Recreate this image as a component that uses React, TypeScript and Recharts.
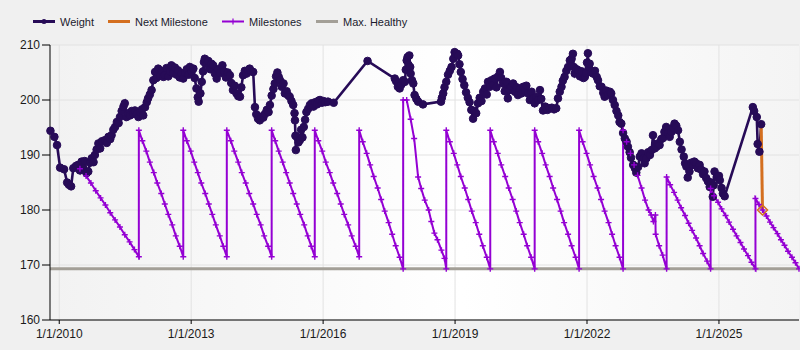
import React from 'react';
import { LineChart, Line, XAxis, YAxis, CartesianGrid } from 'recharts';

const weightData: [number, number][] = [
  [2009.80,194.4],[2009.89,193.3],[2009.95,191.8],[2010.02,187.7],[2010.11,187.4],[2010.18,185.0],[2010.22,184.6],[2010.27,184.3],
  [2010.32,187.6],[2010.38,188.0],[2010.43,188.2],[2010.47,187.2],[2010.51,188.8],[2010.55,187.6],[2010.58,188.9],[2010.62,186.7],
  [2010.66,187.0],[2010.70,188.6],[2010.74,189.4],[2010.78,188.7],[2010.81,190.0],[2010.85,191.0],[2010.89,192.1],[2010.93,191.2],
  [2010.97,192.5],[2011.04,192.7],[2011.08,192.2],[2011.12,193.3],[2011.16,192.9],[2011.19,193.6],[2011.23,194.6],[2011.27,195.1],
  [2011.31,196.0],[2011.35,195.8],[2011.38,196.9],[2011.42,198.0],[2011.46,198.8],[2011.49,199.4],[2011.53,196.9],[2011.57,197.6],
  [2011.61,197.2],[2011.65,198.0],[2011.68,197.5],[2011.72,198.1],[2011.76,197.4],[2011.80,196.9],[2011.84,197.8],[2011.88,198.3],
  [2011.91,197.2],[2011.95,198.7],[2011.99,199.6],[2012.02,200.3],[2012.06,201.0],[2012.10,201.8],[2012.14,203.6],[2012.18,205.1],
  [2012.21,204.0],[2012.25,205.7],[2012.29,204.4],[2012.33,205.3],[2012.37,204.2],[2012.40,204.5],[2012.44,205.8],[2012.48,204.3],
  [2012.52,205.2],[2012.55,206.3],[2012.59,204.9],[2012.63,205.9],[2012.67,204.6],[2012.70,205.4],[2012.74,204.1],[2012.78,204.8],
  [2012.82,203.9],[2012.86,205.0],[2012.90,205.6],[2012.94,204.6],[2012.97,206.0],[2013.01,205.2],[2013.05,205.7],[2013.08,204.0],
  [2013.12,202.1],[2013.15,200.5],[2013.17,199.7],[2013.21,201.2],[2013.24,203.3],[2013.27,205.2],[2013.29,206.9],[2013.31,207.5],
  [2013.35,206.5],[2013.39,207.1],[2013.43,205.6],[2013.46,206.6],[2013.50,206.3],[2013.54,204.8],[2013.58,203.9],[2013.62,205.6],
  [2013.66,204.9],[2013.71,206.3],[2013.75,205.2],[2013.79,204.1],[2013.83,205.0],[2013.88,204.5],[2013.91,203.1],[2013.95,201.8],
  [2013.99,202.6],[2014.03,201.2],[2014.07,200.7],[2014.11,200.6],[2014.14,202.3],[2014.18,204.5],[2014.22,205.3],[2014.26,204.8],
  [2014.30,205.4],[2014.33,205.7],[2014.37,205.2],[2014.41,205.1],[2014.45,198.7],[2014.48,197.4],[2014.52,196.6],[2014.56,196.3],
  [2014.60,197.0],[2014.64,196.8],[2014.68,197.5],[2014.72,198.2],[2014.76,197.8],[2014.79,199.1],[2014.83,200.8],[2014.87,202.0],
  [2014.90,203.0],[2014.93,204.3],[2014.96,205.0],[2014.99,204.2],[2015.02,203.6],[2015.06,202.4],[2015.10,203.0],[2015.13,201.2],
  [2015.17,201.6],[2015.21,200.8],[2015.24,200.6],[2015.28,199.8],[2015.32,199.1],[2015.35,197.6],[2015.36,196.3],[2015.37,193.5],
  [2015.38,190.9],[2015.41,193.2],[2015.44,192.3],[2015.47,192.7],[2015.50,194.6],[2015.53,193.2],[2015.56,195.1],[2015.59,196.4],
  [2015.62,197.8],[2015.66,198.4],[2015.70,199.1],[2015.74,199.4],[2015.78,198.8],[2015.82,199.6],[2015.86,199.2],[2015.90,199.9],
  [2015.93,200.0],[2015.97,199.5],[2016.01,199.8],[2016.05,199.6],[2016.11,199.7],[2016.24,199.5],
  [2017.01,207.1],
  [2017.63,203.9],[2017.66,203.4],[2017.70,202.4],[2017.74,202.1],[2017.78,202.8],[2017.82,203.6],[2017.86,203.3],[2017.88,205.5],
  [2017.90,207.2],[2017.92,207.8],[2017.94,206.4],[2017.96,208.1],[2017.98,206.0],[2017.99,204.8],[2018.02,203.6],[2018.05,203.0],
  [2018.08,200.9],[2018.12,200.2],[2018.16,199.7],[2018.27,199.2],[2018.68,199.7],[2018.70,200.4],[2018.73,201.2],[2018.76,202.3],
  [2018.80,203.3],[2018.84,204.6],[2018.88,205.3],[2018.92,206.0],[2018.96,207.5],[2018.99,208.7],[2019.02,208.3],[2019.05,208.4],
  [2019.07,208.1],[2019.10,206.5],[2019.13,205.1],[2019.17,203.8],[2019.21,202.7],[2019.25,201.4],[2019.29,200.4],[2019.33,199.6],
  [2019.37,198.2],[2019.41,196.6],[2019.44,198.0],[2019.48,197.6],[2019.52,199.4],[2019.56,200.4],[2019.60,199.8],[2019.64,201.5],
  [2019.68,202.1],[2019.72,201.0],[2019.75,203.3],[2019.79,202.4],[2019.83,203.6],[2019.87,202.8],[2019.90,203.9],[2019.94,202.3],
  [2019.98,204.3],[2020.02,205.1],[2020.05,204.0],[2020.09,203.0],[2020.13,201.6],[2020.17,203.3],[2020.20,200.3],[2020.24,201.8],
  [2020.28,202.4],[2020.32,203.0],[2020.36,201.5],[2020.40,202.3],[2020.43,200.9],[2020.47,202.0],[2020.51,201.2],[2020.55,202.4],
  [2020.59,201.7],[2020.62,202.6],[2020.66,201.2],[2020.70,200.0],[2020.74,201.5],[2020.78,200.3],[2020.81,199.4],[2020.85,200.6],
  [2020.89,200.0],[2020.93,201.8],[2020.96,200.2],[2021.00,198.1],[2021.05,198.8],[2021.10,198.2],[2021.15,198.5],[2021.20,198.6],
  [2021.25,198.3],[2021.30,198.5],[2021.34,200.3],[2021.38,201.5],[2021.42,202.4],[2021.45,203.5],[2021.49,204.2],[2021.53,205.3],
  [2021.57,206.0],[2021.61,207.2],[2021.65,207.5],[2021.68,208.4],[2021.70,206.0],[2021.72,204.8],[2021.76,205.6],[2021.80,205.4],
  [2021.84,204.3],[2021.88,205.2],[2021.92,204.0],[2021.95,204.2],[2021.98,204.9],[2022.00,206.8],[2022.02,208.5],[2022.04,206.0],
  [2022.06,206.6],[2022.10,205.0],[2022.14,204.8],[2022.18,205.3],[2022.22,204.2],[2022.25,203.6],[2022.29,202.5],[2022.33,202.4],
  [2022.37,201.3],[2022.40,200.6],[2022.44,201.7],[2022.48,200.9],[2022.52,201.5],[2022.55,201.2],[2022.59,200.0],[2022.63,199.1],
  [2022.67,198.0],[2022.71,197.2],[2022.74,196.0],[2022.78,195.7],[2022.82,194.0],[2022.86,193.0],[2022.90,192.4],[2022.93,191.5],
  [2022.97,190.5],[2023.00,189.5],[2023.05,188.2],[2023.09,187.6],[2023.12,186.8],[2023.16,187.8],[2023.20,189.7],[2023.24,190.3],
  [2023.28,189.4],[2023.31,188.5],[2023.35,189.4],[2023.39,190.5],[2023.43,190.0],[2023.47,190.9],[2023.50,193.6],[2023.54,191.2],
  [2023.58,191.5],[2023.61,192.1],[2023.65,191.8],[2023.69,192.9],[2023.73,193.1],[2023.76,194.2],[2023.80,195.1],[2023.84,194.0],
  [2023.88,193.3],[2023.92,194.2],[2023.96,195.0],[2023.99,195.7],[2024.03,195.3],[2024.07,194.5],[2024.11,192.4],[2024.15,191.0],
  [2024.20,189.7],[2024.23,188.5],[2024.26,187.9],[2024.29,185.9],[2024.33,187.0],[2024.37,188.6],[2024.41,188.2],[2024.44,188.8],
  [2024.48,188.5],[2024.52,187.6],[2024.56,188.2],[2024.60,187.3],[2024.64,186.5],[2024.67,187.0],[2024.71,185.8],[2024.75,185.2],
  [2024.79,184.2],[2024.83,185.0],[2024.86,182.4],[2024.88,184.5],[2024.90,187.0],[2024.95,186.0],[2025.00,186.2],[2025.02,185.4],
  [2025.06,184.0],[2025.09,183.0],[2025.13,182.5],[2025.77,198.7],[2025.80,198.0],[2025.86,196.9],[2025.88,192.0],[2025.92,190.6],
  [2025.96,195.6],
];

const milestoneData: [number, number][] = [
  [2010.47,187.5],[2010.61,186.2],[2010.72,184.9],[2010.83,183.5],[2010.94,182.2],[2011.05,180.9],[2011.16,179.5],[2011.27,178.2],
  [2011.38,176.9],[2011.49,175.5],[2011.60,174.2],[2011.71,172.8],[2011.81,171.5],
  [2011.81,194.5],[2011.89,192.6],[2011.98,190.7],[2012.06,188.7],[2012.15,186.8],[2012.23,184.9],[2012.32,183.0],[2012.40,181.1],
  [2012.48,179.2],[2012.57,177.3],[2012.65,175.3],[2012.74,173.4],[2012.82,171.5],
  [2012.82,194.5],[2012.90,192.6],[2012.99,190.7],[2013.07,188.7],[2013.15,186.8],[2013.23,184.9],[2013.32,183.0],[2013.40,181.1],
  [2013.48,179.2],[2013.56,177.3],[2013.65,175.3],[2013.73,173.4],[2013.81,171.5],
  [2013.81,194.5],[2013.90,192.6],[2013.98,190.7],[2014.07,188.7],[2014.15,186.8],[2014.24,184.9],[2014.32,183.0],[2014.41,181.1],
  [2014.49,179.2],[2014.58,177.3],[2014.66,175.3],[2014.75,173.4],[2014.83,171.5],
  [2014.83,194.5],[2014.91,192.6],[2014.99,190.7],[2015.08,188.7],[2015.16,186.8],[2015.24,184.9],[2015.32,183.0],[2015.40,181.1],
  [2015.48,179.2],[2015.57,177.3],[2015.65,175.3],[2015.73,173.4],[2015.81,171.5],
  [2015.81,194.5],[2015.89,192.6],[2015.98,190.7],[2016.06,188.7],[2016.15,186.8],[2016.23,184.9],[2016.32,183.0],[2016.40,181.1],
  [2016.48,179.2],[2016.57,177.3],[2016.65,175.3],[2016.74,173.4],[2016.82,171.5],
  [2016.82,194.5],[2016.90,192.4],[2016.99,190.3],[2017.07,188.2],[2017.15,186.1],[2017.24,184.0],[2017.32,181.9],[2017.40,179.8],
  [2017.49,177.7],[2017.57,175.6],[2017.65,173.5],[2017.74,171.4],[2017.82,169.3],
  [2017.82,200.0],[2017.90,200.0],[2017.99,196.5],[2018.07,193.0],[2018.16,186.0],[2018.23,183.9],[2018.31,181.8],[2018.40,180.0],
  [2018.46,177.9],[2018.53,175.8],[2018.60,174.6],[2018.69,172.7],[2018.76,171.2],[2018.80,169.3],
  [2018.80,194.5],[2018.88,192.4],[2018.97,190.3],[2019.05,188.2],[2019.13,186.1],[2019.22,184.0],[2019.30,181.9],[2019.38,179.8],
  [2019.47,177.7],[2019.55,175.6],[2019.63,173.5],[2019.72,171.4],[2019.80,169.3],
  [2019.80,194.5],[2019.88,192.4],[2019.97,190.3],[2020.05,188.2],[2020.14,186.1],[2020.22,184.0],[2020.31,181.9],[2020.39,179.8],
  [2020.47,177.7],[2020.56,175.6],[2020.64,173.5],[2020.73,171.4],[2020.81,169.3],
  [2020.81,194.5],[2020.89,192.4],[2020.98,190.3],[2021.06,188.2],[2021.15,186.1],[2021.23,184.0],[2021.32,181.9],[2021.40,179.8],
  [2021.48,177.7],[2021.57,175.6],[2021.65,173.5],[2021.74,171.4],[2021.82,169.3],
  [2021.82,194.5],[2021.90,192.4],[2021.99,190.3],[2022.07,188.2],[2022.15,186.1],[2022.24,184.0],[2022.32,181.9],[2022.40,179.8],
  [2022.49,177.7],[2022.57,175.6],[2022.65,173.5],[2022.74,171.4],[2022.82,169.3],
  [2022.82,194.5],[2022.90,192.4],[2022.99,190.3],[2023.07,188.2],[2023.15,186.3],[2023.24,184.0],[2023.32,181.8],[2023.40,180.0],
  [2023.46,179.1],[2023.51,177.9],[2023.555,179.1],[2023.56,175.6],[2023.64,173.5],[2023.72,171.8],[2023.81,169.3],
  [2023.81,186.0],[2023.89,184.6],[2023.98,183.2],[2024.06,181.8],[2024.14,180.4],[2024.23,179.0],[2024.31,177.6],[2024.39,176.3],
  [2024.48,174.9],[2024.56,173.5],[2024.64,172.1],[2024.73,170.7],[2024.81,169.3],
  [2024.81,183.9],[2024.89,182.6],[2024.98,181.4],[2025.06,180.2],[2025.15,179.0],[2025.23,177.8],[2025.32,176.5],[2025.40,175.3],
  [2025.49,174.1],[2025.57,172.9],[2025.66,171.7],[2025.74,170.5],[2025.83,169.3],
  [2025.83,182.1],[2025.91,181.0],[2025.99,180.0],[2026.08,178.9],[2026.16,177.8],[2026.24,176.8],[2026.33,175.7],[2026.41,174.6],
  [2026.49,173.6],[2026.57,172.5],[2026.66,171.4],[2026.74,170.4],[2026.82,169.3],
];

const nextMilestoneData: [number, number][] = [[2025.96,195.6],[2025.99,180.0]];
const maxHealthyData: [number, number][] = [[2009.79,169.3],[2026.82,169.3]];

const xDomain: [number, number] = [2009.79, 2026.82];
const xTicks = [2010, 2013, 2016, 2019, 2022, 2025];
const yTicks = [160, 170, 180, 190, 200, 210];
const seriesNames = ['Weight', 'Next Milestone', 'Milestones', 'Max. Healthy'];

const C_WEIGHT = '#270b57';
const C_NEXT = '#d46f1f';
const C_MILE = '#9400d3';
const C_MAX = '#a39f97';

const toRows = (arr: [number, number][]) => arr.map(([x, y]) => ({ x, y }));

const PlusDot = (p: any) => {
  const { cx, cy, index } = p;
  if (cx == null || cy == null) return <g key={`pd-${index}`} />;
  return (
    <path key={`pd-${index}`} d={`M${cx - 3},${cy}h6M${cx},${cy - 3}v6`} stroke={C_MILE} strokeWidth={1.4} fill="none" />
  );
};

const NextDot = (p: any) => {
  const { cx, cy, index } = p;
  if (index !== 1 || cx == null) return <g key={`nd-${index}`} />;
  return (
    <path key={`nd-${index}`} d={`M${cx},${cy - 5}L${cx + 5},${cy}L${cx},${cy + 5}L${cx - 5},${cy}Z`} stroke={C_NEXT} strokeWidth={1.5} fill="none" />
  );
};

const Legend = () => {
  const items = [
    { x: 33, tx: 60, color: C_WEIGHT, w: 3, mark: 'dot' },
    { x: 108, tx: 135, color: C_NEXT, w: 3, mark: '' },
    { x: 222, tx: 249, color: C_MILE, w: 2, mark: 'plus' },
    { x: 316, tx: 343, color: C_MAX, w: 3, mark: '' },
  ];
  return (
    <svg width={800} height={40} style={{ position: 'absolute', left: 0, top: 0, pointerEvents: 'none' }}>
      {items.map((it, i) => (
        <g key={i}>
          <line x1={it.x} x2={it.x + 22} y1={21.5} y2={21.5} stroke={it.color} strokeWidth={it.w} />
          {it.mark === 'dot' && <circle cx={it.x + 11} cy={21.5} r={2.5} fill={it.color} />}
          {it.mark === 'plus' && (
            <path d={`M${it.x + 8},21.5h6M${it.x + 11},18.5v6`} stroke={it.color} strokeWidth={1.2} />
          )}
          <text x={it.tx} y={25.5} fontSize={11} fill="#1b1b2e" fontFamily='"Liberation Sans", Arial, sans-serif'>
            {seriesNames[i]}
          </text>
        </g>
      ))}
    </svg>
  );
};

export default function App() {
  return (
    <div
      style={{
        position: 'absolute',
        left: 0,
        top: 0,
        width: 800,
        height: 350,
        background: '#f0f0f0',
        fontFamily: '"Liberation Sans", Arial, sans-serif',
      }}
    >
      <svg width={0} height={0} style={{ position: 'absolute' }}>
        <defs>
          <linearGradient id="plotBg" x1="0" y1="0" x2="1" y2="0">
            <stop offset="0" stopColor="#f2f2f2" />
            <stop offset="0.55" stopColor="#ffffff" />
            <stop offset="1" stopColor="#f4f4f4" />
          </linearGradient>
        </defs>
      </svg>
      <LineChart width={800} height={350} margin={{ top: 45, right: 1, bottom: 0, left: 0 }}>
        <CartesianGrid stroke="#e2e2e2" fill="url(#plotBg)" horizontalValues={yTicks} verticalValues={xTicks} />
        <XAxis
          type="number"
          dataKey="x"
          domain={xDomain}
          ticks={xTicks}
          interval={0}
          tickFormatter={(v: number) => `1/1/${v}`}
          height={30}
          tickSize={4}
          tickMargin={5}
          stroke="#000"
          tick={{ fontSize: 12, fill: '#1a1a1a' }}
        />
        <YAxis
          type="number"
          dataKey="y"
          domain={[160, 210]}
          ticks={yTicks}
          interval={0}
          width={50}
          tickSize={8}
          tickMargin={2}
          stroke="#000"
          tick={{ fontSize: 12, fill: '#1a1a1a' }}
        />
        <Line data={toRows(maxHealthyData)} dataKey="y" stroke={C_MAX} strokeWidth={3} dot={false} isAnimationActive={false} />
        <Line
          data={toRows(weightData)}
          dataKey="y"
          stroke={C_WEIGHT}
          strokeWidth={2.6}
          dot={{ r: 3.8, fill: C_WEIGHT, stroke: C_WEIGHT, strokeWidth: 1 }}
          activeDot={false}
          isAnimationActive={false}
        />
        <Line
          data={toRows(milestoneData)}
          dataKey="y"
          stroke={C_MILE}
          strokeWidth={2}
          dot={PlusDot}
          activeDot={false}
          isAnimationActive={false}
        />
        <Line
          data={toRows(nextMilestoneData)}
          dataKey="y"
          stroke={C_NEXT}
          strokeWidth={3}
          dot={NextDot}
          activeDot={false}
          isAnimationActive={false}
        />
      </LineChart>
      <Legend />
    </div>
  );
}
